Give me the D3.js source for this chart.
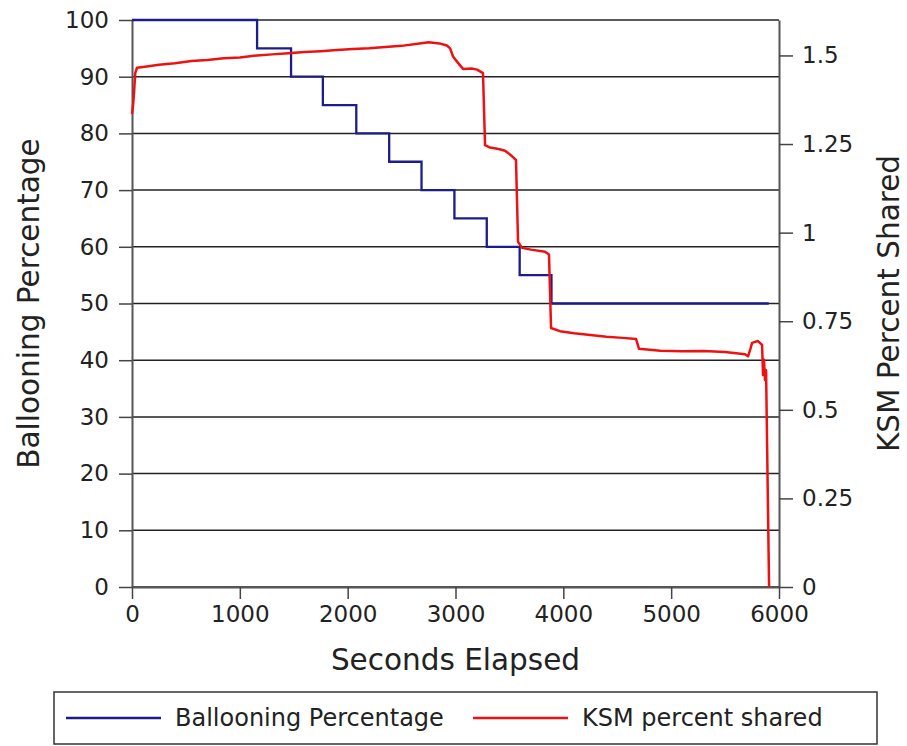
<!DOCTYPE html>
<html>
<head>
<meta charset="utf-8">
<script src="https://cdnjs.cloudflare.com/ajax/libs/d3/7.8.5/d3.min.js"></script>
<style>
  body { margin: 0; background: #fff; }
  text { font-family: "DejaVu Sans", sans-serif; fill: #222; }
</style>
</head>
<body>
<div id="chart"></div>
<script>
// ballooning percentage, step series
var balloonTimes  = [0, 1160, 1475, 1770, 2080, 2385, 2685, 2990, 3290, 3595, 3890, 5905];
var balloonValues = [100, 95, 90, 85, 80, 75, 70, 65, 60, 55, 50, 50];

// KSM percent shared (right axis)
var ksmTimes = [0, 10, 20, 30, 46, 120, 250, 400, 550, 700, 850, 1000, 1160, 1300, 1450, 1600,
  1750, 1900, 2050, 2200, 2350, 2500, 2650, 2750, 2850, 2920, 2950, 2977, 3023, 3070, 3150,
  3200, 3255, 3274, 3320, 3400, 3459, 3500, 3533, 3561, 3580, 3617, 3700, 3830, 3867, 3886,
  3969, 4100, 4250, 4400, 4550, 4674, 4702, 4900, 5100, 5300, 5500, 5685, 5713, 5735, 5750,
  5805, 5843, 5852, 5861, 5870, 5880, 5908];
var ksmValues = [1.335, 1.36, 1.40, 1.45, 1.465, 1.468, 1.474, 1.478, 1.484, 1.487, 1.492, 1.494,
  1.500, 1.503, 1.506, 1.510, 1.512, 1.515, 1.518, 1.520, 1.524, 1.527, 1.533, 1.537, 1.534,
  1.528, 1.520, 1.497, 1.479, 1.462, 1.463, 1.460, 1.450, 1.247, 1.240, 1.236, 1.231, 1.222,
  1.213, 1.205, 0.974, 0.957, 0.952, 0.946, 0.938, 0.731, 0.722, 0.716, 0.711, 0.706, 0.703,
  0.700, 0.672, 0.667, 0.665, 0.666, 0.663, 0.657, 0.651, 0.672, 0.689, 0.694, 0.683, 0.598,
  0.641, 0.584, 0.612, 0];

var xTicks = [0, 1000, 2000, 3000, 4000, 5000, 6000];
var leftTicks = [0, 10, 20, 30, 40, 50, 60, 70, 80, 90, 100];
var rightTicks = [0, 0.25, 0.5, 0.75, 1, 1.25, 1.5];

var width = 907, height = 746;
var plotLeft = 132, plotRight = 779, plotTop = 20, plotBottom = 587;

var svg = d3.select("#chart").append("svg")
    .attr("width", width)
    .attr("height", height);

svg.append("rect").attr("width", width).attr("height", height).attr("fill", "#fff");

var x = d3.scaleLinear().domain([0, 6000]).range([plotLeft, plotRight]);
var yL = d3.scaleLinear().domain([0, 100]).range([plotBottom, plotTop]);
var yR = d3.scaleLinear().domain([0, 1.6]).range([plotBottom, plotTop]);

// horizontal grid lines
svg.append("g").selectAll("line")
    .data(leftTicks)
    .enter().append("line")
    .attr("x1", plotLeft).attr("x2", plotRight)
    .attr("y1", function(d) { return yL(d); })
    .attr("y2", function(d) { return yL(d); })
    .attr("stroke", "#222")
    .attr("stroke-width", 1.5);

function styleAxis(g) {
    g.select(".domain").attr("stroke", "#555").attr("stroke-width", 2);
    g.selectAll(".tick line").attr("stroke", "#444").attr("stroke-width", 1.5);
    g.selectAll(".tick text").style("font-size", "23px").style("font-family", "DejaVu Sans").attr("fill", "#222");
}

svg.append("g")
    .attr("transform", "translate(" + plotLeft + ",0)")
    .call(d3.axisLeft(yL).tickValues(leftTicks).tickSize(13).tickPadding(10).tickSizeOuter(0))
    .call(styleAxis);

svg.append("g")
    .attr("transform", "translate(" + plotRight + ",0)")
    .call(d3.axisRight(yR).tickValues(rightTicks).tickSize(14).tickPadding(9).tickSizeOuter(0)
        .tickFormat(function(d) { return String(d); }))
    .call(styleAxis);

svg.append("g")
    .attr("transform", "translate(0," + plotBottom + ")")
    .call(d3.axisBottom(x).tickValues(xTicks).tickSize(12).tickPadding(7).tickSizeOuter(0)
        .tickFormat(d3.format("d")))
    .call(styleAxis);

var balloon = balloonTimes.map(function(t, i) { return [t, balloonValues[i]]; });
var ksm = ksmTimes.map(function(t, i) { return [t, ksmValues[i]]; });

svg.append("path")
    .datum(balloon)
    .attr("fill", "none")
    .attr("stroke", "#1c1c8c")
    .attr("stroke-width", 2.3)
    .attr("d", d3.line()
        .x(function(d) { return x(d[0]); })
        .y(function(d) { return yL(d[1]); })
        .curve(d3.curveStepAfter));

svg.append("path")
    .datum(ksm)
    .attr("fill", "none")
    .attr("stroke", "#ee1111")
    .attr("stroke-width", 2.5)
    .attr("stroke-linejoin", "round")
    .attr("d", d3.line()
        .x(function(d) { return x(d[0]); })
        .y(function(d) { return yR(d[1]); }));

// axis titles
svg.append("text")
    .attr("x", (plotLeft + plotRight) / 2).attr("y", 670)
    .attr("text-anchor", "middle")
    .style("font-size", "29.5px")
    .text("Seconds Elapsed");

svg.append("text")
    .attr("transform", "translate(39," + (plotTop + plotBottom) / 2 + ") rotate(-90)")
    .attr("text-anchor", "middle")
    .style("font-size", "29.5px")
    .text("Ballooning Percentage");

svg.append("text")
    .attr("transform", "translate(899," + (plotTop + plotBottom) / 2 + ") rotate(-90)")
    .attr("text-anchor", "middle")
    .style("font-size", "29.5px")
    .text("KSM Percent Shared");

// legend
var legend = svg.append("g");
legend.append("rect")
    .attr("x", 54).attr("y", 692).attr("width", 823).attr("height", 52)
    .attr("fill", "#fff").attr("stroke", "#333").attr("stroke-width", 1.5);

var items = [
    { label: "Ballooning Percentage", color: "#1c1c8c", x: 66 },
    { label: "KSM percent shared", color: "#ee1111", x: 473 }
];
var item = legend.selectAll(".item").data(items).enter().append("g").attr("class", "item");
item.append("line")
    .attr("x1", function(d) { return d.x; })
    .attr("x2", function(d) { return d.x + 95; })
    .attr("y1", 718).attr("y2", 718)
    .attr("stroke", function(d) { return d.color; })
    .attr("stroke-width", 2.3);
item.append("text")
    .attr("x", function(d) { return d.x + 109; })
    .attr("y", 726)
    .style("font-size", "24px")
    .text(function(d) { return d.label; });
</script>
</body>
</html>
